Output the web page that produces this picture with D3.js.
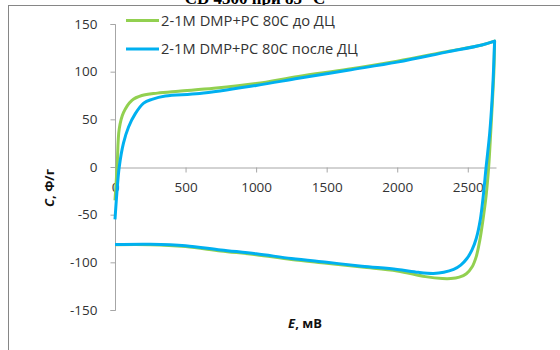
<!DOCTYPE html>
<html><head><meta charset="utf-8">
<script src="https://cdn.jsdelivr.net/npm/d3@7"></script>
<style>body{margin:0;background:#fff}svg{display:block}</style>
</head><body>
<script>
const seriesNames = ["2-1M DMP+PC 80C до ДЦ", "2-1M DMP+PC 80C после ДЦ"];
const greenE = [0, 15, 30, 60, 120, 190, 300, 450, 700, 1000, 1300, 1650, 2000, 2350, 2600, 2690, 2685, 2675, 2662, 2648, 2630, 2608, 2585, 2560, 2530, 2490, 2440, 2380, 2320, 2200, 2000, 1750, 1500, 1250, 1000, 750, 500, 250, 0];
const greenC = [-35, 0, 40, 57, 70, 75, 77.5, 79.5, 82.5, 87.5, 95, 102.5, 111, 121, 128, 132, 100, 70, 35, 0, -30, -55, -77, -94, -105, -112, -115.5, -117, -117, -115, -109, -105, -101, -97, -92, -88, -83.5, -81.5, -81.5];
const blueE = [0, 13, 30, 60, 96, 144, 203, 262, 357, 600, 1000, 1300, 1650, 2000, 2350, 2600, 2690, 2682, 2672, 2655, 2630, 2610, 2589, 2560, 2530, 2494, 2450, 2400, 2330, 2257, 2150, 2000, 1750, 1500, 1250, 1000, 750, 500, 250, 0];
const blueC = [-55, -27.6, 0, 25, 42, 56, 67, 71, 74.5, 77, 85.5, 93, 101.5, 110, 120.5, 128, 132, 100, 70, 35, 0, -30, -55, -75, -87, -96, -103, -107.5, -110.5, -111.6, -110.5, -107.5, -104, -100, -96, -91, -87, -82.5, -81, -81.3];
const xTicks = [0, 500, 1000, 1500, 2000, 2500];
const yTicks = [-150, -100, -50, 0, 50, 100, 150];
const colors = ["#92D050", "#00B0F0"];

const W = 560, H = 350;
const svg = d3.select("body").append("svg").attr("width", W).attr("height", H);
const font = "Open Sans, Liberation Sans, sans-serif";

// title (mostly cut off at top, as in the reference)
svg.append("text").attr("x", 255).attr("y", 4).attr("text-anchor", "middle")
  .attr("font-family", "Liberation Serif, serif").attr("font-weight", "bold").attr("font-size", 17)
  .text("CD 4500 при 85 °C");

// frame
svg.append("rect").attr("x", 8.5).attr("y", 5.5).attr("width", 600).attr("height", 400)
  .attr("fill", "#fff").attr("stroke", "#868686").attr("stroke-width", 1);

const x = d3.scaleLinear().domain([0, 2700]).range([115, 496]);
const y = d3.scaleLinear().domain([-150, 150]).range([310, 24]);
const fmt = d => String(d);

// y axis
const yAxis = svg.append("g").attr("transform", "translate(115.5,0)")
  .call(d3.axisLeft(y).tickValues(yTicks).tickFormat(fmt).tickSize(5).tickPadding(13));
yAxis.select(".domain").attr("stroke", "#a6a6a6").attr("d", `M-5,${y(150)+0.5}H0V${y(-150)+0.5}H-5`);
yAxis.selectAll(".tick line").attr("stroke", "#a6a6a6");
yAxis.selectAll(".tick text").attr("font-family", font).attr("font-size", 13.5).attr("fill", "#333");

// x axis at y=0
const xAxis = svg.append("g").attr("transform", `translate(0,${Math.round(y(0))+0.5})`)
  .call(d3.axisBottom(x).tickValues(xTicks).tickFormat(fmt).tickSize(5).tickPadding(10).tickSizeOuter(0));
xAxis.select(".domain").attr("stroke", "#a6a6a6");
xAxis.selectAll(".tick line").attr("stroke", "#a6a6a6");
xAxis.selectAll(".tick text").attr("font-family", font).attr("font-size", 13.5).attr("fill", "#333");

// lines: smooth, with a sharp corner at the vertex (max E)
const seg = d3.line().x(d => x(d[0])).y(d => y(d[1])).curve(d3.curveCatmullRom.alpha(0.5));
function loopPath(pts) {
  let k = 0;
  pts.forEach((p, i) => { if (p[0] > pts[k][0]) k = i; });
  const a = seg(pts.slice(0, k + 1));
  const b = seg(pts.slice(k));
  return a + "L" + b.slice(1);
}
const data = [greenE.map((e, i) => [e, greenC[i]]), blueE.map((e, i) => [e, blueC[i]])];
data.forEach((d, i) => {
  svg.append("path").attr("d", loopPath(d)).attr("fill", "none")
    .attr("stroke", colors[i]).attr("stroke-width", 3).attr("stroke-linejoin", "round");
});

// legend
const legendWidths = [174, 197];
seriesNames.forEach((n, i) => {
  const ly = 20.5 + i * 28.5;
  svg.append("line").attr("x1", 126).attr("x2", 159).attr("y1", ly).attr("y2", ly)
    .attr("stroke", colors[i]).attr("stroke-width", 3);
  const t = svg.append("text").attr("x", 161).attr("y", ly + 5).attr("font-family", font)
    .attr("font-size", 13).attr("fill", "#333").text(n);
  const w = t.node().getComputedTextLength();
  if (w > 0) t.attr("font-size", Math.min(15, 13 * legendWidths[i] / w));
});

// axis titles
const yt = svg.append("text").attr("transform", "translate(54,188) rotate(-90)")
  .attr("text-anchor", "middle").attr("font-family", font).attr("font-size", 13)
  .attr("font-weight", "bold").attr("fill", "#111");
yt.append("tspan").attr("font-style", "italic").text("C");
yt.append("tspan").text(", Ф/г");
const xt = svg.append("text").attr("x", 305).attr("y", 328)
  .attr("text-anchor", "middle").attr("font-family", font).attr("font-size", 13)
  .attr("font-weight", "bold").attr("fill", "#111");
xt.append("tspan").attr("font-style", "italic").text("E");
xt.append("tspan").text(", мВ");
</script>
</body></html>
